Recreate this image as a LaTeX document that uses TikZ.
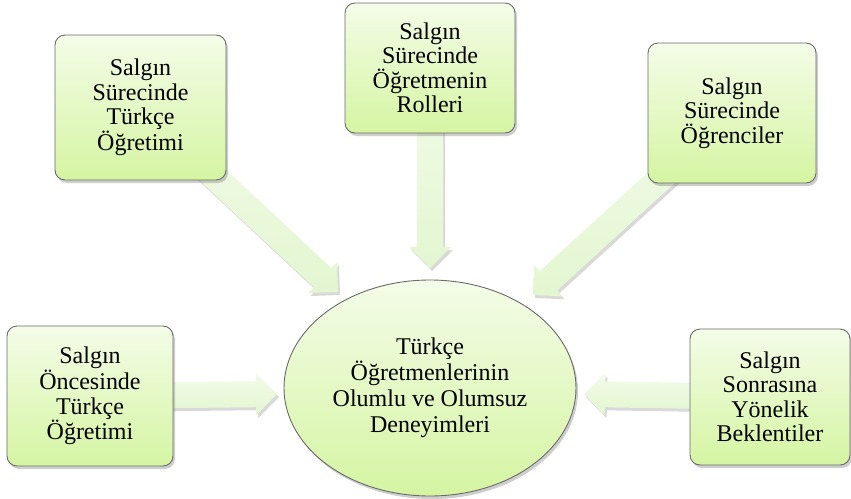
\documentclass[tikz,border=0pt]{standalone}
\usepackage{fontspec}
\setmainfont{Liberation Serif}
\usetikzlibrary{shapes.geometric,shadows,calc,backgrounds}
\definecolor{gtop}{HTML}{F4FCE8}
\definecolor{gbot}{HTML}{D5F5A2}
\definecolor{atop}{HTML}{F3FBEA}
\definecolor{abot}{HTML}{E3F6D0}
\definecolor{bord}{HTML}{6A6A6A}
\tikzset{
  topic/.style={draw=bord, line width=0.9pt, rounded corners=10pt,
    top color=gtop, bottom color=gbot, align=center, inner sep=0pt,
    font=\fontsize{24}{24.5}\selectfont,
    drop shadow={shadow xshift=2pt, shadow yshift=-3pt, opacity=0.35, fill=black!55}},
  core/.style={ellipse, draw=bord, line width=0.9pt,
    top color=gtop, bottom color=gbot, align=center, inner sep=0pt,
    font=\fontsize{24}{26}\selectfont,
    drop shadow={shadow xshift=2pt, shadow yshift=-3pt, opacity=0.35, fill=black!55}},
  arrowbody/.style={draw=none, top color=atop, bottom color=abot,
    drop shadow={shadow xshift=2pt, shadow yshift=-3pt, opacity=0.3, fill=black!50}}
}
\newcommand\blockarr[3]{%
  \coordinate (h#3) at ($(#2)!21pt!(#1)$);
  \path[arrowbody] ($(#1)!13pt!90:(#2)$) -- ($(h#3)!13pt!90:(#2)$)
    -- ($(h#3)!21pt!90:(#2)$) -- (#2) -- ($(h#3)!21pt!-90:(#2)$)
    -- ($(h#3)!13pt!-90:(#2)$) -- ($(#1)!13pt!-90:(#2)$) -- cycle;
}
\begin{document}
\begin{tikzpicture}[x=1pt,y=-1pt]
\useasboundingbox (0,0) rectangle (851,498);
\node[topic, minimum width=171pt, minimum height=145pt] (b1) at (140.5,107.5)
  {Salgın\\Sürecinde\\Türkçe\\Öğretimi};
\node[topic, minimum width=170pt, minimum height=130pt] (b2) at (430,68)
  {Salgın\\Sürecinde\\Öğretmenin\\Rolleri};
\node[topic, minimum width=168pt, minimum height=140pt] (b3) at (732,113)
  {Salgın\\Sürecinde\\Öğrenciler};
\node[topic, minimum width=166pt, minimum height=140pt] (b4) at (90,396)
  {Salgın\\Öncesinde\\Türkçe\\Öğretimi};
\node[topic, minimum width=160pt, minimum height=136pt] (b5) at (770,397)
  {Salgın\\Sonrasına\\Yönelik\\Beklentiler};
\node[core, minimum width=292pt, minimum height=216pt] (c) at (430,388)
  {Türkçe\\Öğretmenlerinin\\Olumlu ve Olumsuz\\Deneyimleri};
\coordinate (t1) at (338,292);
\coordinate (t2) at (430,268);
\coordinate (t3) at (533,295);
\coordinate (t4) at (277,394);
\coordinate (t5) at (584,394);
\begin{scope}[on background layer]
\blockarr{b1}{t1}{a}
\blockarr{b2}{t2}{b}
\blockarr{b3}{t3}{c}
\blockarr{b4}{t4}{d}
\blockarr{b5}{t5}{e}
\end{scope}
\end{tikzpicture}
\end{document}
